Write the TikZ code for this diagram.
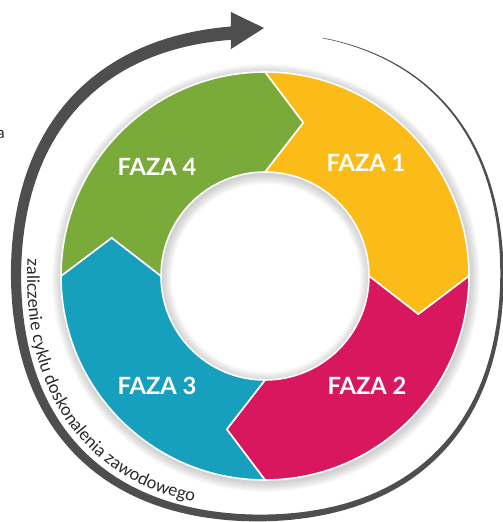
\documentclass[tikz,border=0pt]{standalone}
\usepackage{fontspec}
\setmainfont{Lato}
\usetikzlibrary{decorations.text}
\definecolor{fazayellow}{RGB}{251,187,24}
\definecolor{fazagreen}{RGB}{122,170,58}
\definecolor{fazateal}{RGB}{22,160,190}
\definecolor{fazapink}{RGB}{216,23,95}
\definecolor{cyclegray}{RGB}{78,78,78}
\definecolor{textdark}{RGB}{40,40,40}
\tikzset{
  declare function={outr(\t)=243*(1+0.04*sin(2*\t)*sin(2*\t)); bw(\t)=0.5+0.038*(75-\t);},
  segment/.style={draw=white, line width=0.9pt},
  fazalabel/.style={text=white, font=\fontsize{13.5}{16}\selectfont\bfseries},
}
% one chevron of the ring: #1 colour, #2 angle of its tail
\newcommand{\fazaseg}[2]{%
  \filldraw[segment, fill=#1] (#2:204) arc[start angle=#2, end angle=#2-90, radius=204]
    -- (#2-104:158) -- (#2-90:104) arc[start angle=#2-90, end angle=#2, radius=104]
    -- (#2-14:158) -- cycle;}

\begin{document}
\begin{tikzpicture}[x=0.02cm, y=0.02cm]
\useasboundingbox (-265,-246) rectangle (238,276);

% soft shadow round the ring
\foreach \i in {1,...,10}
  \fill[black, opacity=0.02, even odd rule] (1,-2) circle (204+\i) circle (104-\i);

% the four phases
\fazaseg{fazayellow}{90}
\fazaseg{fazapink}{0}
\fazaseg{fazateal}{-90}
\fazaseg{fazagreen}{180}

\node[fazalabel] (faza1) at (101,113) {FAZA 1};
\node[fazalabel] (faza2) at (102,-110) {FAZA 2};
\node[fazalabel] (faza3) at (-108,-110) {FAZA 3};
\node[fazalabel] (faza4) at (-108,109) {FAZA 4};

% outer cycle, thin at the start and thick at the arrow
\fill[cyclegray] plot[domain=75:-263.6, samples=160]
    ({-6+(outr(\x)+bw(\x)/2)*cos(\x)}, {1+(outr(\x)+bw(\x)/2)*sin(\x)})
  -- plot[domain=-263.6:75, samples=160]
    ({-6+(outr(\x)-bw(\x)/2)*cos(\x)}, {1+(outr(\x)-bw(\x)/2)*sin(\x)}) -- cycle;
\fill[cyclegray] (-34,264) -- (-1,248) -- (-34,227) -- cycle;

% label along the cycle
\path[decorate, decoration={text along path, text align=left,
    text={|\fontsize{9.8}{11}\selectfont\color{textdark}|zaliczenie cyklu doskonalenia zawodowego}}]
  plot[domain=176:268, samples=47]
    ({-6+(outr(\x)-bw(\x-360)/2-6)*cos(\x)}, {1+(outr(\x)-bw(\x-360)/2-6)*sin(\x)});

\node[anchor=base east, inner sep=0pt, text=textdark, font=\fontsize{9}{11}\selectfont] (cut) at (-260,138) {a};
\end{tikzpicture}
\end{document}
